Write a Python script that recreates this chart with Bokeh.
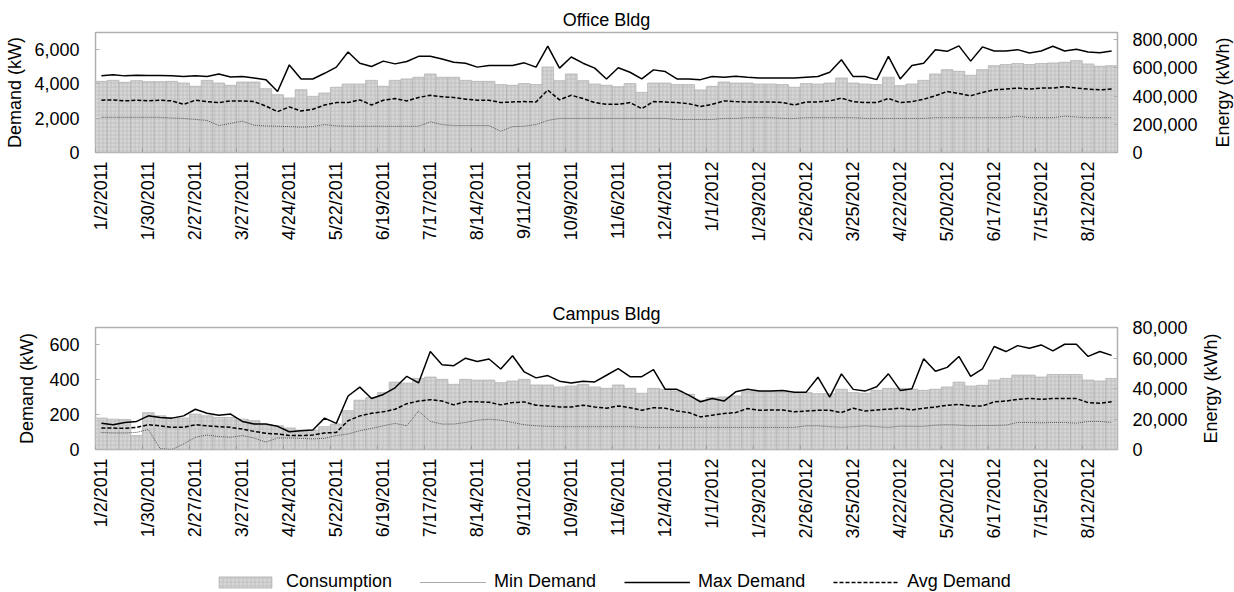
import math
from bokeh.plotting import figure
from bokeh.models import Range1d, LinearAxis, FixedTicker, NumeralTickFormatter, Legend, LegendItem, Label
from bokeh.layouts import column
from bokeh.embed import file_html
from bokeh.resources import INLINE

FONT = "Liberation Sans"

# ---------------- data ----------------
tick_labels = ["1/2/2011", "1/30/2011", "2/27/2011", "3/27/2011", "4/24/2011", "5/22/2011",
               "6/19/2011", "7/17/2011", "8/14/2011", "9/11/2011", "10/9/2011", "11/6/2011",
               "12/4/2011", "1/1/2012", "1/29/2012", "2/26/2012", "3/25/2012", "4/22/2012",
               "5/20/2012", "6/17/2012", "7/15/2012", "8/12/2012"]
weeks_per_tick = 4

office_consumption = [
    504000, 511000, 497000, 509000, 502000, 502000, 504000, 492000, 469000, 511000,
    492000, 476000, 499000, 499000, 452000, 409000, 386000, 445000, 398000, 421000,
    462000, 485000, 485000, 511000, 469000, 511000, 521000, 533000, 556000, 533000,
    533000, 511000, 504000, 504000, 481000, 476000, 488000, 481000, 606000, 509000,
    556000, 509000, 485000, 476000, 466000, 488000, 426000, 492000, 492000, 481000,
    481000, 443000, 469000, 499000, 492000, 492000, 485000, 485000, 481000, 462000,
    488000, 485000, 492000, 528000, 492000, 485000, 481000, 533000, 473000, 485000,
    511000, 556000, 587000, 575000, 547000, 587000, 615000, 623000, 630000, 623000,
    630000, 634000, 639000, 651000, 627000, 611000, 615000]
office_max = [
    4480, 4540, 4470, 4500, 4490, 4490, 4470, 4430, 4470, 4430,
    4580, 4410, 4430, 4350, 4250, 3560, 5110, 4290, 4290, 4620,
    4980, 5860, 5210, 5020, 5330, 5170, 5310, 5610, 5610, 5450,
    5270, 5210, 4980, 5080, 5080, 5080, 5230, 4980, 6200, 4920,
    5570, 5210, 4920, 4290, 4940, 4680, 4290, 4820, 4720, 4290,
    4290, 4250, 4430, 4390, 4450, 4390, 4350, 4350, 4350, 4350,
    4390, 4430, 4680, 5410, 4430, 4430, 4250, 5610, 4290, 5080,
    5210, 6000, 5900, 6220, 5330, 6160, 5920, 5920, 6000, 5800,
    5920, 6200, 5920, 6020, 5860, 5820, 5920]
office_avg = [
    3050, 3070, 3010, 3050, 3010, 3050, 3010, 2810, 3050, 2970,
    2910, 3010, 3010, 2970, 2710, 2380, 2660, 2420, 2520, 2770,
    2910, 2910, 3070, 2770, 3050, 3150, 3010, 3210, 3340, 3250,
    3210, 3110, 3050, 3050, 2910, 2950, 2970, 2950, 3640, 3070,
    3340, 3150, 2910, 2810, 2810, 2910, 2560, 2970, 2950, 2910,
    2850, 2680, 2810, 3010, 2970, 2950, 2950, 2950, 2910, 2770,
    2950, 2950, 3010, 3170, 2970, 2910, 2910, 3150, 2910, 2970,
    3110, 3310, 3560, 3440, 3310, 3500, 3660, 3700, 3760, 3700,
    3760, 3760, 3840, 3760, 3700, 3660, 3700]
office_min = [
    2050, 2050, 2050, 2050, 2050, 2050, 2010, 1990, 1930, 1870,
    1570, 1700, 1830, 1590, 1550, 1530, 1510, 1480, 1510, 1630,
    1550, 1530, 1530, 1530, 1530, 1530, 1530, 1530, 1790, 1630,
    1570, 1570, 1570, 1570, 1240, 1510, 1530, 1630, 1870, 1990,
    1990, 1990, 1990, 1990, 1990, 1990, 1990, 1990, 1990, 1930,
    1930, 1930, 1930, 1990, 1990, 2030, 2030, 2030, 1990, 1990,
    2030, 2030, 2030, 2030, 2030, 1990, 1990, 1990, 1990, 1990,
    1990, 2030, 2030, 2030, 2030, 2030, 2030, 2030, 2120, 2030,
    2030, 2030, 2120, 2070, 2030, 2030, 2030]

campus_consumption = [
    20600, 19900, 19700, 9100, 24100, 22100, 21000, 20600, 23200, 22100,
    21000, 21000, 19900, 18900, 16300, 15600, 14100, 12800, 12800, 15000,
    16700, 25400, 32300, 34000, 37300, 44200, 43500, 46600, 47500, 46000,
    42700, 46000, 45500, 45500, 43800, 44900, 46000, 42300, 42300, 41000,
    41600, 42700, 41000, 40100, 42300, 40100, 36900, 40100, 39500, 38400,
    36200, 32300, 34000, 34500, 35100, 37900, 37900, 37900, 37500, 37100,
    37300, 36600, 36600, 39500, 37300, 36900, 38800, 40100, 40100, 39500,
    38800, 39500, 41000, 44200, 41600, 42100, 45500, 46600, 48800, 48800,
    47500, 49200, 49200, 49200, 45500, 44900, 46600]
campus_max = [
    150, 142, 155, 161, 193, 184, 180, 193, 231, 208,
    197, 203, 161, 146, 146, 133, 102, 108, 112, 180,
    150, 307, 358, 293, 316, 354, 420, 382, 562, 486,
    481, 524, 505, 519, 462, 538, 445, 411, 424, 392,
    382, 392, 388, 426, 464, 418, 418, 458, 345, 345,
    312, 274, 293, 278, 331, 346, 335, 335, 339, 329,
    329, 415, 301, 434, 345, 335, 360, 434, 339, 348,
    521, 449, 471, 534, 420, 462, 591, 562, 596, 581,
    600, 566, 604, 604, 534, 562, 540]
campus_avg = [
    123, 123, 121, 127, 142, 136, 127, 127, 142, 136,
    131, 127, 117, 104, 93, 89, 80, 80, 83, 95,
    98, 165, 193, 208, 216, 231, 263, 278, 286, 278,
    256, 274, 274, 271, 256, 269, 273, 254, 250, 244,
    244, 254, 244, 237, 250, 240, 225, 240, 237, 221,
    212, 187, 197, 206, 212, 235, 225, 227, 227, 216,
    221, 225, 225, 212, 237, 221, 227, 231, 237, 227,
    237, 244, 254, 259, 250, 250, 273, 278, 288, 293,
    288, 292, 293, 292, 269, 265, 274]
campus_min = [
    98, 95, 95, 98, 115, 5, 0, 32, 70, 83,
    74, 70, 80, 66, 42, 66, 66, 64, 61, 64,
    80, 89, 108, 121, 136, 150, 136, 221, 161, 146,
    146, 155, 168, 174, 168, 155, 142, 136, 133, 131,
    131, 131, 131, 131, 131, 131, 127, 127, 127, 127,
    127, 127, 127, 127, 127, 127, 127, 127, 127, 127,
    136, 136, 131, 127, 131, 136, 131, 127, 134, 133,
    133, 140, 142, 140, 136, 138, 138, 140, 155, 155,
    153, 155, 155, 151, 161, 161, 155]

# ---------------- styles ----------------
BAR = dict(fill_color="#d6d6d6", line_color="#b4b4b4", line_width=0.8,
           hatch_pattern="+", hatch_scale=4, hatch_color="#b4b4b4",
           hatch_weight=0.8, hatch_alpha=0.7)
MAXS = dict(line_color="black", line_width=1.5)
AVGS = dict(line_color="black", line_width=1.5, line_dash="4 2")
MINS = dict(line_color="#555555", line_width=1, line_dash="1 1")
FRAME = "#b0b0b0"
FS = "18px"
W = 1234
B_LEFT = 95
B_RIGHT = 117


def style_axis(ax):
    ax.axis_line_color = None
    ax.minor_tick_line_color = None
    ax.major_label_text_font = FONT
    ax.major_label_text_font_size = FS
    ax.major_label_text_color = "black"
    ax.axis_label_text_font = FONT
    ax.axis_label_text_font_size = FS
    ax.axis_label_text_font_style = "normal"
    ax.axis_label_text_color = "black"


def make_panel(title, cons, dmin, dmax, davg, left_max, left_ticks, right_max, right_ticks,
               height, b_top, b_bottom, t_standoff, l_lab_sto, energy_dx):
    n = len(cons)
    idx = list(range(n))
    frame_h = height - b_top - b_bottom
    p = figure(width=W, height=height, x_range=Range1d(-0.5, n - 0.5),
               y_range=Range1d(0, left_max), output_backend="svg", toolbar_location=None,
               min_border_top=b_top, min_border_bottom=b_bottom,
               min_border_left=B_LEFT, min_border_right=B_RIGHT)
    p.extra_y_ranges = {"energy": Range1d(0, right_max)}
    p.title.text = title
    p.title.text_font = FONT
    p.title.text_font_size = FS
    p.title.text_font_style = "normal"
    p.title.text_color = "black"
    p.title.align = "center"
    p.title.standoff = t_standoff
    p.xgrid.visible = False
    p.ygrid.visible = False
    p.outline_line_color = FRAME
    p.outline_line_width = 1.5
    p.background_fill_color = "white"
    p.border_fill_color = "white"

    p.vbar(x=idx, top=cons, width=1.0, y_range_name="energy", **BAR)
    p.line(idx, dmin, **MINS)
    p.line(idx, davg, **AVGS)
    p.line(idx, dmax, **MAXS)

    # x axis
    xa = p.xaxis[0]
    style_axis(xa)
    tick_pos = [weeks_per_tick * k for k in range(len(tick_labels))]
    xa.ticker = FixedTicker(ticks=tick_pos)
    xa.major_label_overrides = {t: lab for t, lab in zip(tick_pos, tick_labels)}
    xa.major_label_orientation = math.pi / 2
    xa.major_tick_line_color = None
    xa.major_label_standoff = 3

    # small inner tick marks on category boundaries (left edge of each labelled week)
    bounds = [t - 0.5 for t in tick_pos]
    tick_h = left_max * 4.0 / frame_h
    p.segment(x0=bounds, y0=[0] * len(bounds), x1=bounds, y1=[tick_h] * len(bounds),
              line_color="#999999", line_width=1)

    # left axis
    ya = p.yaxis[0]
    style_axis(ya)
    ya.ticker = FixedTicker(ticks=left_ticks)
    ya.formatter = NumeralTickFormatter(format="0,0")
    ya.axis_label = "Demand (kW)"
    ya.major_tick_in = 4
    ya.major_tick_out = 0
    ya.major_tick_line_color = FRAME
    ya.major_label_standoff = 16
    ya.axis_label_standoff = l_lab_sto

    # right axis
    ra = LinearAxis(y_range_name="energy")
    style_axis(ra)
    ra.ticker = FixedTicker(ticks=right_ticks)
    ra.formatter = NumeralTickFormatter(format="0,0")
    ra.major_tick_in = 4
    ra.major_tick_out = 0
    ra.major_tick_line_color = FRAME
    ra.major_label_standoff = 15
    p.add_layout(ra, "right")

    # right-hand axis title, reading bottom to top, in its own side panel
    p.add_layout(Label(x=energy_dx, y=left_max / 2, x_units="screen", y_units="data",
                       text="Energy (kWh)", angle=90, angle_units="deg",
                       text_align="center", text_baseline="middle",
                       text_font=FONT, text_font_size=FS, text_color="black"), "right")
    return p


p1 = make_panel("Office Bldg", office_consumption, office_min, office_max, office_avg,
                7000, [0, 2000, 4000, 6000], 850000, [0, 200000, 400000, 600000, 800000],
                height=290, b_top=32, b_bottom=138, t_standoff=5, l_lab_sto=6, energy_dx=22)
p2 = make_panel("Campus Bldg", campus_consumption, campus_min, campus_max, campus_avg,
                700, [0, 200, 400, 600], 80000, [0, 20000, 40000, 60000, 80000],
                height=255, b_top=37, b_bottom=96, t_standoff=7, l_lab_sto=9, energy_dx=20)

# ---------------- legend strip ----------------
leg = figure(width=W, height=47, x_range=Range1d(0, 1), y_range=Range1d(0, 1),
             output_backend="svg", toolbar_location=None, x_axis_type=None, y_axis_type=None,
             min_border_left=B_LEFT, min_border_right=B_RIGHT, min_border_top=0, min_border_bottom=0)
leg.grid.visible = False
leg.outline_line_color = None
# off-range placeholder glyphs, only used to draw the legend swatches
r_c = leg.vbar(x=[-5], top=[-5], width=1.0, **BAR)
r_mn = leg.line(x=[-6, -5], y=[-5, -5], **MINS)
r_mx = leg.line(x=[-6, -5], y=[-5, -5], **MAXS)
r_av = leg.line(x=[-6, -5], y=[-5, -5], **AVGS)
legend = Legend(items=[LegendItem(label="Consumption", renderers=[r_c]),
                       LegendItem(label="Min Demand", renderers=[r_mn]),
                       LegendItem(label="Max Demand", renderers=[r_mx]),
                       LegendItem(label="Avg Demand", renderers=[r_av])],
                orientation="horizontal", location=(212 - B_LEFT, 0),
                glyph_width=66, glyph_height=14, label_standoff=8, spacing=28,
                padding=0, margin=0, border_line_color=None, background_fill_alpha=0,
                label_text_font=FONT, label_text_font_size=FS, label_text_color="black")
leg.add_layout(legend, "center")

layout = column(p1, p2, leg, spacing=0)
open("out.html", "w").write(file_html(layout, INLINE))
